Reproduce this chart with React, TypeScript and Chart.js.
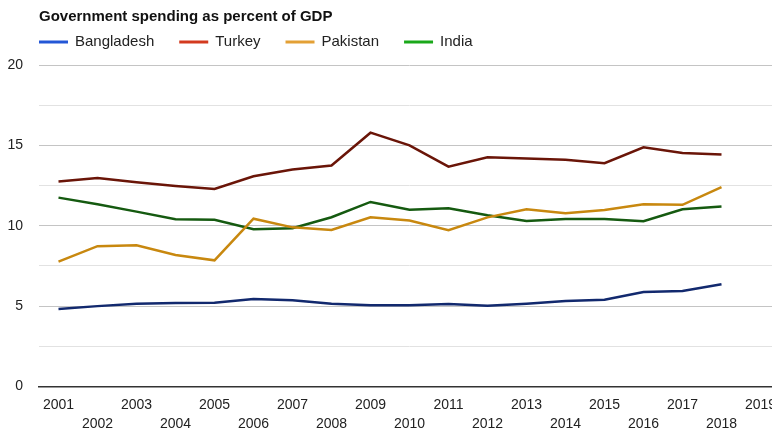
import React, { useEffect, useRef } from "react";
import { Chart, registerables } from "chart.js";

Chart.register(...registerables);

const TITLE = "Government spending as percent of GDP";
const years = ["2001","2002","2003","2004","2005","2006","2007","2008","2009","2010","2011","2012","2013","2014","2015","2016","2017","2018","2019"];
const seriesNames = ["Bangladesh", "Turkey", "Pakistan", "India"];
const bangladesh = [4.82,5.0,5.15,5.2,5.21,5.44,5.36,5.15,5.05,5.05,5.13,5.03,5.15,5.32,5.4,5.88,5.94,6.36];
const turkey = [12.75,12.97,12.71,12.48,12.29,13.08,13.5,13.75,15.79,15.0,13.68,14.26,14.18,14.1,13.89,14.88,14.53,14.43];
const pakistan = [7.77,8.73,8.78,8.18,7.85,10.44,9.9,9.74,10.53,10.32,9.72,10.52,11.03,10.78,10.98,11.34,11.3,12.4];
const india = [11.75,11.34,10.88,10.4,10.37,9.79,9.84,10.53,11.48,11.0,11.09,10.65,10.3,10.42,10.42,10.28,11.03,11.19];
const lineColors = ["#12296e", "#6a1508", "#c8880f", "#155a10"];
const legendColors = ["#2457d6", "#d33a1f", "#e3a035", "#1aa81a"];

const FONT = '"Liberation Sans", Arial, sans-serif';

const headerPlugin = {
  id: "header",
  afterDraw(chart: any) {
    const ctx = chart.ctx;
    const left = chart.chartArea.left;
    ctx.save();
    ctx.textAlign = "left";
    ctx.textBaseline = "middle";
    ctx.fillStyle = "#111";
    ctx.font = `bold 15px ${FONT}`;
    ctx.fillText(TITLE, left, 17);
    ctx.font = `15px ${FONT}`;
    let x = left;
    const y = 42;
    chart.data.datasets.forEach((ds: any, i: number) => {
      ctx.strokeStyle = legendColors[i];
      ctx.lineWidth = 3;
      ctx.beginPath();
      ctx.moveTo(x, y);
      ctx.lineTo(x + 29, y);
      ctx.stroke();
      x += 36;
      ctx.fillStyle = "#222";
      ctx.fillText(ds.label, x, y);
      x += ctx.measureText(ds.label).width + 25;
    });
    ctx.restore();
  },
};

export default function App() {
  const ref = useRef<HTMLCanvasElement>(null);
  useEffect(() => {
    if (!ref.current) return;
    const values = [bangladesh, turkey, pakistan, india];
    const chart = new Chart(ref.current, {
      type: "line",
      data: {
        labels: years,
        datasets: seriesNames.map((name, i) => ({
          label: name,
          data: values[i],
          borderColor: lineColors[i],
          backgroundColor: lineColors[i],
          borderWidth: 2.5,
          pointRadius: 0,
          tension: 0,
          fill: false,
        })),
      },
      options: {
        responsive: false,
        animation: false,
        devicePixelRatio: 1,
        layout: { padding: { left: 7, top: 65, right: 10, bottom: 0 } },
        plugins: { legend: { display: false }, title: { display: false }, tooltip: { enabled: false } },
        scales: {
          x: {
            type: "category",
            offset: true,
            grid: { display: false, drawTicks: false },
            border: { display: true, color: "#333", width: 1.5 },
            ticks: {
              autoSkip: false,
              maxRotation: 0,
              minRotation: 0,
              padding: 9,
              color: "#222",
              font: { family: FONT, size: 14, lineHeight: 1.35 },
              callback: (_v: any, i: number) => (i % 2 === 0 ? years[i] : ["", years[i]]),
            },
            afterFit: (s: any) => { s.height = 45.5; },
          },
          y: {
            min: 0,
            max: 20,
            border: { display: false },
            grid: {
              drawTicks: false,
              lineWidth: 1,
              color: (c: any) => {
                const v = c.tick ? c.tick.value : 0;
                if (v === 0) return "#333";
                return v % 5 === 0 ? "#c4c4c4" : "#e2e2e2";
              },
            },
            ticks: {
              stepSize: 2.5,
              padding: 16,
              color: "#222",
              font: { family: FONT, size: 14 },
              callback: (v: any) => (Number(v) % 5 === 0 ? String(v) : ""),
            },
            afterFit: (s: any) => { s.width = 32; },
          },
        },
      },
      plugins: [headerPlugin],
    });
    return () => chart.destroy();
  }, []);
  return (
    <div style={{ position: "fixed", left: 0, top: 0, width: 772, height: 432, overflow: "hidden", background: "#fff" }}>
      <canvas ref={ref} width={790} height={432} style={{ display: "block", width: 790, height: 432 }} />
    </div>
  );
}
